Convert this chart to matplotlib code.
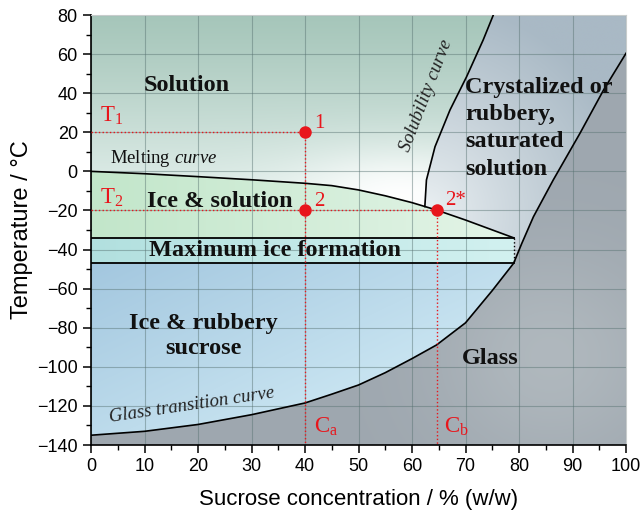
import numpy as np
import matplotlib
matplotlib.use("Agg")
import matplotlib.pyplot as plt
from matplotlib.patches import Polygon
from matplotlib.colors import to_rgb

plt.rcParams['font.family'] = ['Liberation Sans', 'DejaVu Sans']
plt.rcParams['mathtext.fontset'] = 'custom'
plt.rcParams['mathtext.rm'] = 'Liberation Serif'
plt.rcParams['mathtext.it'] = 'Liberation Serif:italic'
plt.rcParams['mathtext.bf'] = 'Liberation Serif:bold'

# --- curves of the sucrose/water state diagram ---
melt_x = [0, 10, 20, 30, 40, 45, 50, 55, 60, 64.6, 70, 79]
melt_t = [0, -1.2, -2.7, -4.3, -6.1, -7.3, -9.5, -12.5, -16.0, -19.8, -24.9, -34]

sol_x = [62.4, 62.7, 64.3, 67.1, 70.2, 73.3, 75.2]
sol_t = [-18.0, -4.4, 12.6, 31.4, 48.4, 67.2, 80]

glass_x = [0, 10, 20, 30, 40, 45, 50, 55, 60, 64.6, 70, 75, 79, 80.5, 82.7, 86.4, 91.4, 95.8, 100]
glass_t = [-135, -133, -129.5, -124.5, -118.5, -114, -109.3, -103, -95.8, -88.8, -77.5, -61, -47,
           -37, -23.2, -4.4, 19.5, 41.6, 60.4]

# maximum ice formation band
band_top, band_bot, band_end = -34, -47, 79

# cooling paths
c_a, c_b = 40, 64.6
t_1, t_2 = 20, -20

red = '#e8161c'

fig = plt.figure(figsize=(6.42, 5.13), dpi=100)
ax = fig.add_axes([91 / 642, 1 - 445 / 513, 535 / 642, 430 / 513])

xmin, xmax, ymin, ymax = 0, 100, -140, 80
X, Y = np.meshgrid(np.linspace(xmin, xmax, 500), np.linspace(ymin, ymax, 500))


def mix(c0, c1, t):
    c0 = np.array(to_rgb(c0))
    c1 = np.array(to_rgb(c1))
    t = np.clip(t, 0, 1)[..., None]
    return c0 + (c1 - c0) * t


def shade(verts, img):
    patch = Polygon(verts, closed=True, facecolor='none', edgecolor='none')
    ax.add_patch(patch)
    im = ax.imshow(np.clip(img, 0, 1), extent=[xmin, xmax, ymin, ymax], origin='lower',
                   aspect='auto', interpolation='bilinear', zorder=0)
    im.set_clip_path(patch)


mx = np.array(melt_x)
mt = np.array(melt_t)
sx = np.array(sol_x)
st = np.array(sol_t)
gx = np.array(glass_x)
gt = np.array(glass_t)
i_sol = np.searchsorted(mx, sx[0])
i_g = int(np.where(gx == band_end)[0][0])

# solution
verts = [(0, 80)] + list(zip(mx[:i_sol], mt[:i_sol])) + list(zip(sx, st)) + [(sx[-1], 80)]
img = mix('#a6c6ba', '#e2efeb', ((80 - Y) / 92) ** 1.15)
w = np.exp(-((X - 58) / 20) ** 2 - ((Y + 14) / 24) ** 2)[..., None]
img = img * (1 - 0.95 * w) + 0.95 * w
shade(verts, img)

# crystalized / rubbery saturated solution
verts = (list(zip(sx, st)) + [(100, 80)] + list(zip(gx[::-1], gt[::-1]))[:len(gx) - i_g]
         + [(band_end, band_top)] + list(zip(mx[::-1], mt[::-1]))[:len(mx) - i_sol])
d = np.sqrt(((X - 62) / 40) ** 2 + ((Y + 22) / 110) ** 2)
shade(verts, mix('#eef3f5', '#a9b9c5', d ** 0.85))

# ice & solution
verts = list(zip(mx, mt)) + [(band_end, band_top), (0, band_top)]
img = mix('#c2e6ca', '#e2f4e6', X / 75)
shade(verts, img)

# maximum ice formation
verts = [(0, band_top), (band_end, band_top), (band_end, band_bot), (0, band_bot)]
shade(verts, mix('#b2e0df', '#d2f1f0', X / 79))

# ice & rubbery sucrose
verts = [(0, band_bot), (band_end, band_bot)] + list(zip(gx[:i_g + 1][::-1], gt[:i_g + 1][::-1]))
t = 0.55 * X / 80 + 0.45 * (band_bot - Y) / 85
shade(verts, mix('#a3c7df', '#d9f1f9', t))

# glass
verts = list(zip(gx, gt)) + [(100, -140), (0, -140)]
w = np.exp(-((X - 86) / 22) ** 2 - ((Y + 95) / 55) ** 2)
shade(verts, mix('#9ea7af', '#b4bcc1', 0.8 * w))

# curve lines
ax.plot(mx, mt, color='k', lw=1.2, zorder=3)
ax.plot(sx, st, color='k', lw=1.2, zorder=3)
ax.plot(gx, gt, color='k', lw=1.2, zorder=3)
ax.plot([0, band_end], [band_top, band_top], color='k', lw=1.3, zorder=3)
ax.plot([0, band_end], [band_bot, band_bot], color='k', lw=1.3, zorder=3)
ax.plot([band_end, band_end], [band_top, band_bot], color='k', lw=1.0, ls=':', zorder=3)

# cooling paths
ax.plot([0, c_a], [t_1, t_1], color=red, lw=1.0, ls=':', zorder=4)
ax.plot([0, c_b], [t_2, t_2], color=red, lw=1.0, ls=':', zorder=4)
ax.plot([c_a, c_a], [t_1, ymin], color=red, lw=1.0, ls=':', zorder=4)
ax.plot([c_b, c_b], [t_2, ymin], color=red, lw=1.0, ls=':', zorder=4)
ax.plot([c_a, c_a, c_b], [t_1, t_2, t_2], 'o', color=red, ms=9, mec='none', zorder=5)

rf = dict(color=red, family='Liberation Serif', zorder=6)
ax.text(41.7, 24.5, '1', fontsize=15, va='center', ha='left', **rf)
ax.text(41.7, -15.5, '2', fontsize=15, va='center', ha='left', **rf)
ax.text(66.2, -15.0, '2*', fontsize=15, va='center', ha='left', **rf)
ax.text(1.6, 25.5, r'T$_1$', fontsize=16.5, va='baseline', ha='left', **rf)
ax.text(1.6, -16.5, r'T$_2$', fontsize=16.5, va='baseline', ha='left', **rf)
ax.text(41.6, -133.5, r'C$_\mathrm{a}$', fontsize=16.5, va='baseline', ha='left', **rf)
ax.text(66.0, -133.5, r'C$_\mathrm{b}$', fontsize=16.5, va='baseline', ha='left', **rf)

# region labels
bf = dict(family='Liberation Serif', fontweight='bold', fontsize=17.5, color='#111111', zorder=6)
ax.text(17.9, 44.0, 'Solution', ha='center', va='center', **bf)
ax.text(24.1, -15.5, 'Ice & solution', ha='center', va='center', **bf)
ax.text(34.4, -40.5, 'Maximum ice formation', ha='center', va='center', **bf)
ax.text(21.0, -84.0, 'Ice & rubbery\nsucrose', ha='center', va='center', linespacing=1.25, **bf)
ax.text(74.6, -96.0, 'Glass', ha='center', va='center', **bf)
ax.text(69.9, 48.5, 'Crystalized or\nrubbery,\nsaturated\nsolution', ha='left', va='top',
        linespacing=1.4, **bf)

ax.text(3.6, 6.8, r'Melting $\mathit{curve}$', fontsize=13.5, family='Liberation Serif',
        ha='left', va='center', color='#111111', zorder=6)
ax.text(62.7, 39.0, 'Solubility curve', fontsize=13.5, family='Liberation Serif', style='italic',
        rotation=69, ha='center', va='center', color='#222222', zorder=6)
ax.text(18.9, -119.5, 'Glass transition curve', fontsize=13.5, family='Liberation Serif',
        style='italic', rotation=8.5, ha='center', va='center', color='#222222', zorder=6)

# axes
ax.set_xlim(xmin, xmax)
ax.set_ylim(ymin, ymax)
ax.set_xticks(np.arange(0, 101, 10))
ax.set_xticks(np.arange(0, 101, 5), minor=True)
ax.set_yticks(np.arange(-140, 81, 20))
ax.set_yticks(np.arange(-140, 81, 10), minor=True)
ax.set_axisbelow('line')
ax.grid(True, which='major', color='#55706f', alpha=0.45, lw=0.8)
ax.tick_params(which='major', direction='out', length=6, width=1.1, labelsize=13)
ax.tick_params(which='minor', direction='out', length=3.5, width=1.0)
for s in ('top', 'right'):
    ax.spines[s].set_color('#c8cccc')
    ax.spines[s].set_linewidth(0.8)
for s in ('left', 'bottom'):
    ax.spines[s].set_linewidth(1.2)
ax.set_xlabel('Sucrose concentration / % (w/w)', fontsize=16, labelpad=10)
ax.set_ylabel('Temperature / °C', fontsize=17, labelpad=3)

fig.savefig('out.png', dpi=100)
